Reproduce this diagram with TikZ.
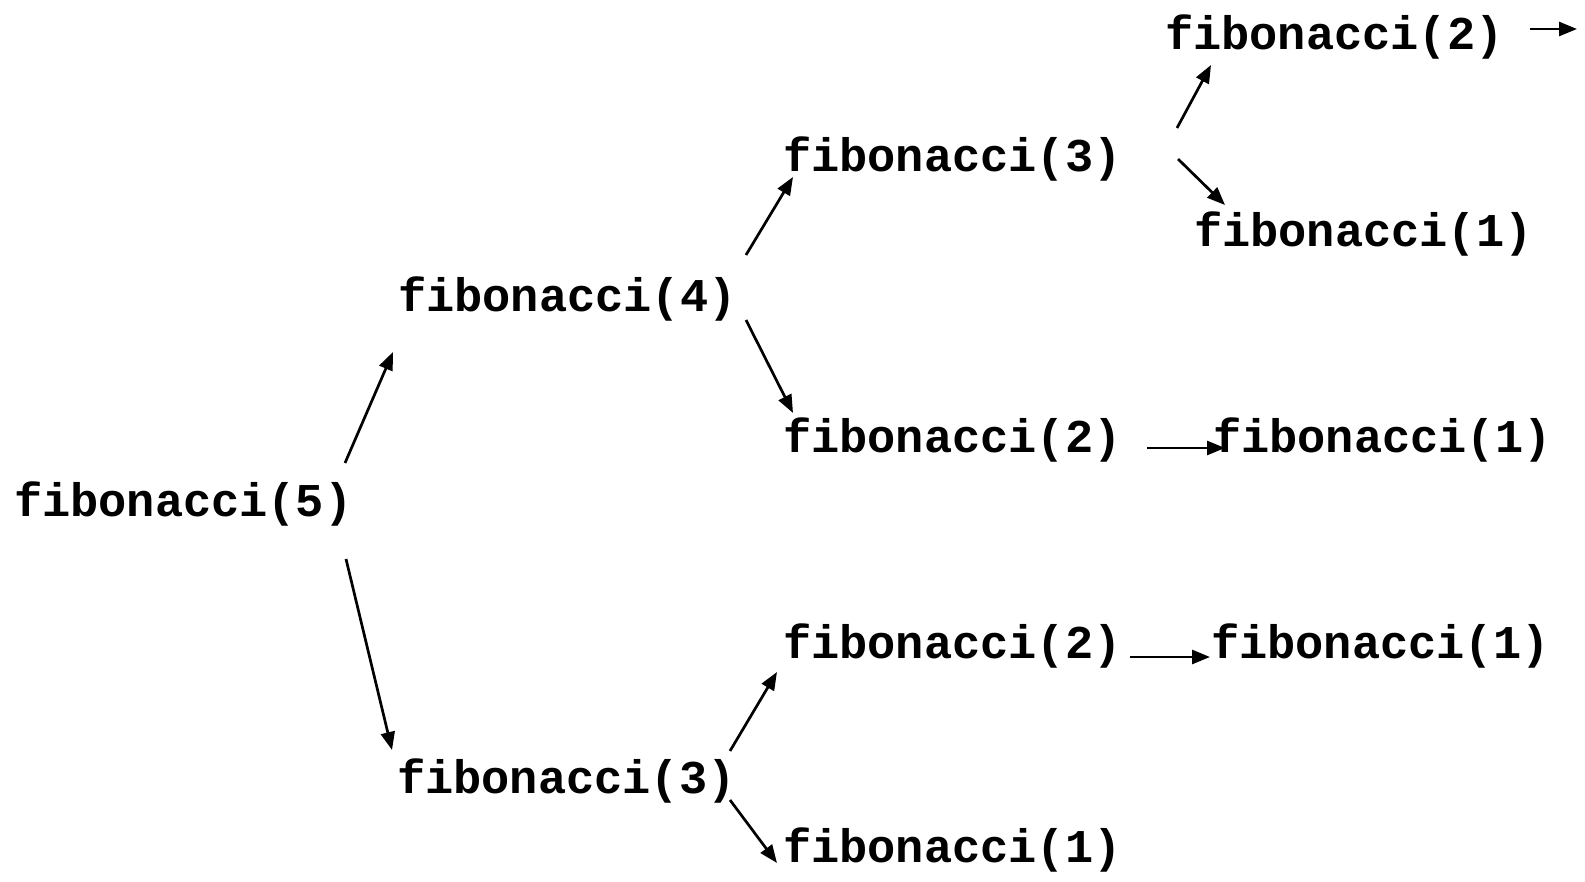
\documentclass[tikz,border=0pt]{standalone}
\usepackage{fontspec}
\setmonofont{Liberation Mono}
\usetikzlibrary{arrows.meta,calc}
\tikzset{
  call/.style={anchor=base west, inner sep=0pt, outer sep=0pt,
    font=\ttfamily\bfseries\fontsize{47}{47}\selectfont},
  link/.style={line width=2.7pt, -{Triangle[length=18pt,width=14pt]}}
}
\begin{document}
\begin{tikzpicture}[x=1pt,y=-1pt]
\useasboundingbox (0,0) rectangle (1585,882);

% recursion tree of calls
\node[call] (f5)  at (14,516)   {fibonacci(5)};
\node[call] (f4)  at (398,312)  {fibonacci(4)};
\node[call] (f3b) at (397,793)  {fibonacci(3)};
\node[call] (f3t) at (783,172)  {fibonacci(3)};
\node[call] (f2m) at (783,453)  {fibonacci(2)};
\node[call] (f2l) at (783,658)  {fibonacci(2)};
\node[call] (f1b) at (783,862)  {fibonacci(1)};
\node[call] (f2t) at (1165,50)  {fibonacci(2)};
\node[call] (f1t) at (1194,247) {fibonacci(1)};
\node[call] (f1m) at (1213,453) {fibonacci(1)};
\node[call] (f1l) at (1211,658) {fibonacci(1)};
\coordinate (more) at (1577,29);

% calls
\draw[link] ($(f5.base west)+(331,-53)$) -- ($(f4.base west)+(-5,40)$);
\draw[link] ($(f5.base west)+(332,43)$) -- ($(f3b.base west)+(-5,-43)$);
\draw[link] ($(f4.base west)+(348,-57)$) -- ($(f3t.base west)+(10,5)$);
\draw[link] ($(f4.base west)+(348,8)$) -- ($(f2m.base west)+(10,-40)$);
\draw[link] ($(f3t.base west)+(394,-44)$) -- ($(f2t.base west)+(46,15)$);
\draw[link] ($(f3t.base west)+(395,-13)$) -- ($(f1t.base west)+(31,-42)$);
\draw[link] ($(f2t.base west)+(365,-21)$) -- (more);
\draw[link] ($(f2m.base west)+(364,-5)$) -- ($(f1m.base west)+(12,-5)$);
\draw[link] ($(f2l.base west)+(347,-1)$) -- ($(f1l.base west)+(-1,-1)$);
\draw[link] ($(f3b.base west)+(333,-42)$) -- ($(f2l.base west)+(-6,14)$);
\draw[link] ($(f3b.base west)+(333,7)$) -- ($(f1b.base west)+(-6,1)$);
\end{tikzpicture}
\end{document}
